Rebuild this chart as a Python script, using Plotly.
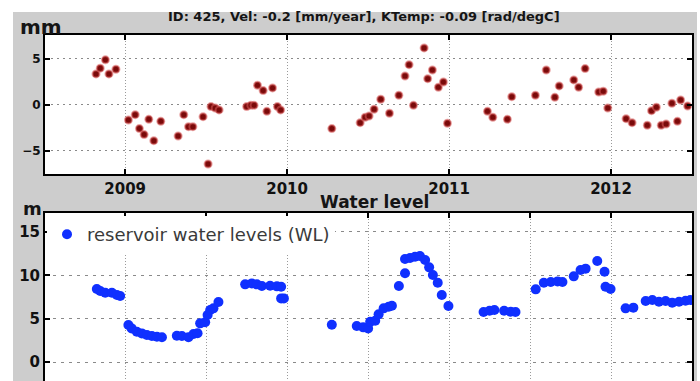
import plotly.graph_objects as go

# ---- deformation time series (top) ----
def_t = [2008.82, 2008.846, 2008.878, 2008.90, 2008.943, 2009.02, 2009.062, 2009.088, 2009.117,
         2009.146, 2009.177, 2009.22, 2009.327, 2009.362, 2009.391, 2009.418, 2009.481, 2009.512,
         2009.53, 2009.556, 2009.58, 2009.75, 2009.776, 2009.796, 2009.817, 2009.852, 2009.875,
         2009.91, 2009.94, 2009.96, 2010.276, 2010.451, 2010.482, 2010.506, 2010.537, 2010.578,
         2010.632, 2010.69, 2010.728, 2010.753, 2010.78, 2010.846, 2010.868, 2010.897, 2010.934,
         2010.965, 2010.99, 2011.237, 2011.27, 2011.36, 2011.387, 2011.533, 2011.6, 2011.653,
         2011.68, 2011.77, 2011.80, 2011.84, 2011.924, 2011.952, 2011.98, 2012.093, 2012.13,
         2012.224, 2012.25, 2012.28, 2012.31, 2012.34, 2012.376, 2012.41, 2012.43, 2012.473]
def_mm = [3.37, 4.0, 4.9, 3.37, 3.88, -1.63, -1.05, -2.57, -3.22,
          -1.56, -3.88, -1.78, -3.37, -1.05, -2.36, -2.36, -1.27, -6.41,
          -0.18, -0.33, -0.54, -0.18, -0.04, -0.04, 2.14, 1.56, -0.69,
          1.85, -0.18, -0.54, -2.57, -1.92, -1.34, -1.2, -0.47, 0.62,
          -0.9, 1.05, 3.15, 4.38, -0.04, 6.2, 2.86, 3.8, 1.92,
          2.5, -1.99, -0.69, -1.34, -1.56, 0.9, 1.05, 3.8, 0.83,
          2.07, 2.72, 1.92, 3.95, 1.41, 1.49, -0.33, -1.49, -1.92,
          -2.21, -0.62, -0.25, -2.21, -2.07, 0.18, -1.78, 0.54, -0.11]

# ---- reservoir water level (bottom) ----
wl_t = [2008.825, 2008.846, 2008.877, 2008.918, 2008.949, 2008.969, 2009.02, 2009.04, 2009.072,
        2009.103, 2009.134, 2009.165, 2009.196, 2009.227, 2009.319, 2009.35, 2009.391, 2009.422,
        2009.447, 2009.463, 2009.494, 2009.509, 2009.525, 2009.545, 2009.576, 2009.741, 2009.782,
        2009.813, 2009.844, 2009.895, 2009.937, 2009.963, 2009.963, 2009.98, 2010.276, 2010.43,
        2010.47, 2010.50, 2010.513, 2010.544, 2010.565, 2010.596, 2010.627, 2010.647, 2010.69,
        2010.728, 2010.728, 2010.759, 2010.79, 2010.82, 2010.852, 2010.877, 2010.90, 2010.93,
        2010.955, 2010.996, 2011.213, 2011.25, 2011.28, 2011.34, 2011.38, 2011.41, 2011.535,
        2011.585, 2011.628, 2011.67, 2011.70, 2011.77, 2011.812, 2011.843, 2011.915, 2011.96,
        2011.966, 2011.997, 2012.09, 2012.138, 2012.214, 2012.255, 2012.296, 2012.337, 2012.378,
        2012.42, 2012.46, 2012.49]
wl_m = [8.42, 8.19, 8.0, 8.0, 7.73, 7.61, 4.27, 3.88, 3.5,
        3.3, 3.11, 3.0, 2.92, 2.85, 3.03, 3.0, 2.85, 3.23,
        3.31, 4.46, 4.58, 5.42, 6.0, 6.19, 6.92, 8.96, 9.07,
        8.96, 8.76, 8.8, 8.73, 8.69, 7.34, 7.34, 4.3, 4.15,
        4.0, 3.88, 4.65, 4.77, 5.5, 6.19, 6.38, 6.5, 8.76,
        10.23, 11.88, 12.0, 12.15, 12.23, 11.77, 10.92, 10.03, 9.15,
        7.73, 6.46, 5.77, 5.92, 6.0, 5.92, 5.8, 5.77, 8.38,
        9.15, 9.23, 9.3, 9.23, 9.88, 10.61, 10.77, 11.65, 10.42,
        8.69, 8.42, 6.19, 6.27, 7.04, 7.15, 6.96, 7.04, 6.84,
        6.96, 7.07, 7.15]

year_ticks = [2009, 2010, 2011, 2012]
year_labels = ["2009", "2010", "2011", "2012"]
half_year_ticks = [2009, 2009.5, 2010, 2010.5, 2011, 2011.5, 2012]
def_yticks = [-5, 0, 5]
wl_yticks = [0, 5, 10, 15]

title_top = "ID: 425, Vel: -0.2 [mm/year], KTemp: -0.09 [rad/degC]"
title_bottom = "Water level"
legend_name = "reservoir water levels (WL)"

W, H = 700, 381
ML, MR, MT, MB = 45, 8, 35, 0
PW, PH = W - ML - MR, H - MT - MB


def px_x(p):
    return (p - ML) / PW


def px_y(p):
    return (H - MB - p) / PH


GRAY = "#cdcdcd"
FONT = "DejaVu Sans"

fig = go.Figure()
fig.add_trace(go.Scatter(
    x=def_t, y=def_mm, mode="markers", xaxis="x", yaxis="y", showlegend=False,
    marker=dict(color="#7a0a0a", size=7, line=dict(color="rgba(215,90,90,0.55)", width=2))))
fig.add_trace(go.Scatter(
    x=wl_t, y=wl_m, mode="markers", xaxis="x2", yaxis="y2", name=legend_name,
    marker=dict(color="#1030ff", size=10, line=dict(width=0))))

xr = [2008.505, 2012.5]
common_axis = dict(linecolor="black", linewidth=2, ticks="inside", ticklen=5, tickwidth=2,
                   tickcolor="black", zeroline=False)

fig.update_layout(
    width=W, height=H,
    margin=dict(l=ML, r=MR, t=MT, b=MB, pad=0),
    paper_bgcolor=GRAY, plot_bgcolor="white",
    font=dict(family=FONT, color="black"),
    xaxis=dict(domain=[0, 1], range=xr, anchor="y", tickvals=year_ticks, ticktext=year_labels,
               showline=True, mirror="ticks", showgrid=True, gridcolor="#9a9a9a", gridwidth=1,
               griddash="1px,2px", tickfont=dict(family=FONT, size=15, color="#111", weight="bold"),
               **common_axis),
    yaxis=dict(domain=[px_y(174), 1], range=[-7.5, 7.6], anchor="x", tickvals=def_yticks,
               showline=True, mirror="ticks", showgrid=True, gridcolor="#8a8a8a", gridwidth=1,
               griddash="2px,4px", tickfont=dict(family=FONT, size=12, color="#111", weight="bold"),
               ticklabelstandoff=0, **common_axis),
    xaxis2=dict(domain=[0, 1], range=xr, anchor="y2", side="top", tickvals=half_year_ticks,
                showticklabels=False, showline=True, mirror=False, showgrid=True,
                gridcolor="#9a9a9a", gridwidth=1, griddash="1px,2px", **common_axis),
    yaxis2=dict(domain=[0, px_y(213)], range=[-2.19, 17.19], anchor="x2", tickvals=wl_yticks,
                showline=True, mirror="ticks", showgrid=True, gridcolor="#8a8a8a", gridwidth=1,
                griddash="3px,5px", tickfont=dict(family=FONT, size=15, color="#111", weight="bold"),
                ticklabelstandoff=0, **common_axis),
    showlegend=True,
    legend=dict(x=px_x(47), y=px_y(216), xanchor="left", yanchor="top", bgcolor="white",
                borderwidth=0, font=dict(family=FONT, size=18, color="#3a3a3a"),
                tracegroupgap=0),
)

annotations = [
    (title_top, 364, 17, 13),
    (title_bottom, 375, 202, 17),
    ("mm", 41, 27, 20),
    ("m", 32, 208, 18),
]
for text, ax, ay, size in annotations:
    fig.add_annotation(xref="paper", yref="paper", showarrow=False, xanchor="center",
                       yanchor="middle", text=text, x=px_x(ax), y=px_y(ay),
                       font=dict(family=FONT, size=size, weight="bold", color="#151515"))

# white page margins around the gray figure panel
for x0, x1, y0, y1 in [(-0.1, px_x(13), -0.1, 1.2), (-0.1, 1.1, px_y(12), 1.2), (px_x(697), 1.1, -0.1, 1.2)]:
    fig.add_shape(type="rect", xref="paper", yref="paper", x0=x0, x1=x1, y0=y0, y1=y1,
                  fillcolor="white", line=dict(width=0), layer="below")

fig.write_html("out.html")
